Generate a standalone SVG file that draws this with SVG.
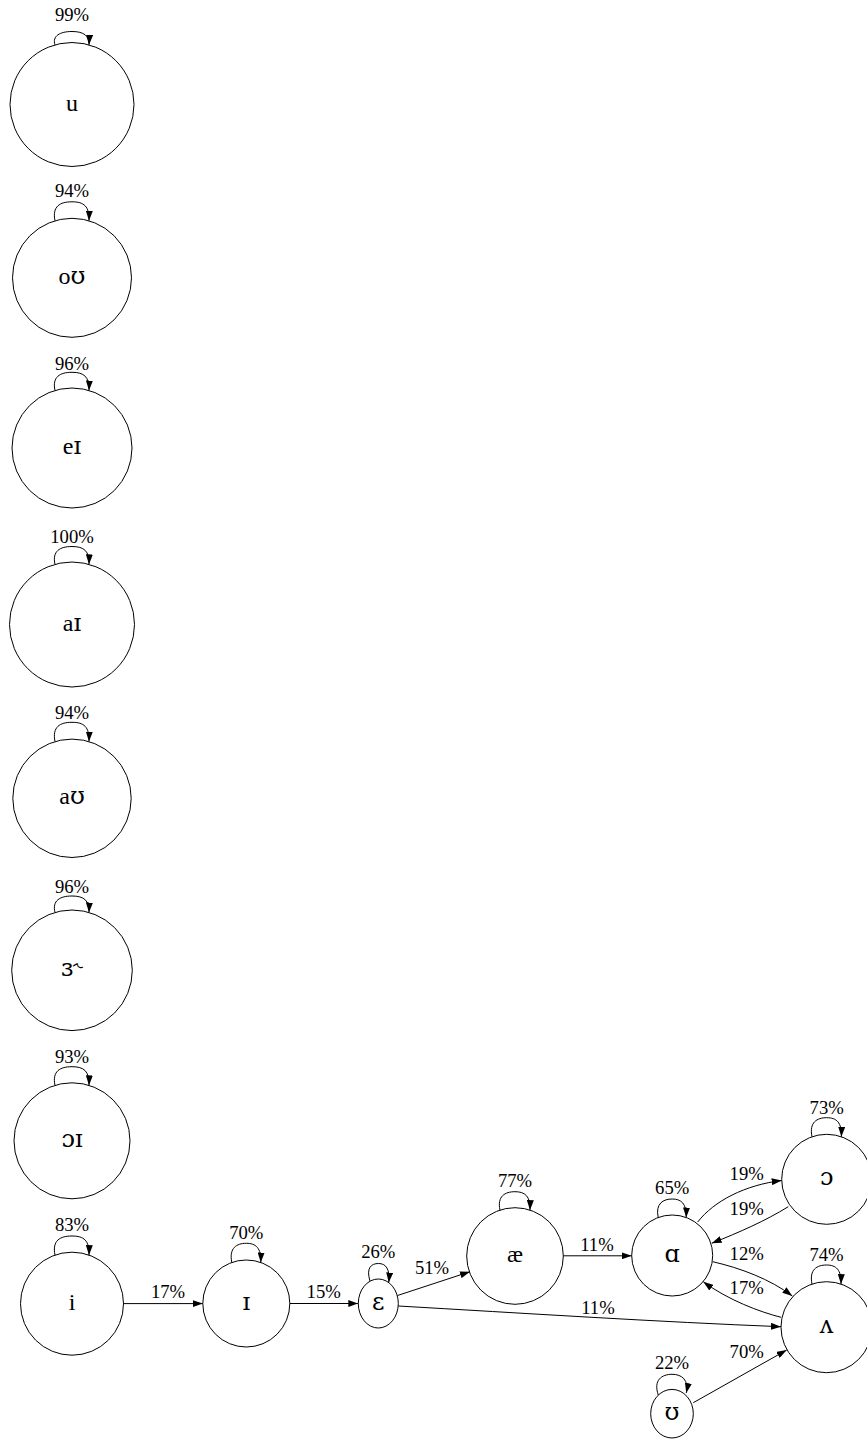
<svg xmlns="http://www.w3.org/2000/svg" width="867" height="1439" viewBox="0 0 867 1439">
<defs>
<marker id="arr" viewBox="0 0 10 7" refX="10" refY="3.5" markerWidth="10" markerHeight="7" orient="auto" markerUnits="userSpaceOnUse">
<path d="M0,0 L10,3.5 L0,7 z" fill="#000"/>
</marker>
<style>
.n{fill:none;stroke:#000;stroke-width:1}
.t{font-family:"Liberation Serif","DejaVu Serif",serif;font-size:24px;text-anchor:middle;fill:#000}
.p{font-family:"DejaVu Serif","Liberation Serif",serif}
.e{fill:none;stroke:#000;stroke-width:1;marker-end:url(#arr)}
.l{font-family:"Liberation Serif","DejaVu Serif",serif;font-size:18.67px;text-anchor:middle;fill:#000}
</style>
</defs>
<rect width="867" height="1439" fill="#fff"/>
<g id="node-u"><circle class="n" cx="72" cy="104.5" r="62"/><text class="t" x="72" y="110.5">u</text></g>
<g id="node-ou"><circle class="n" cx="72" cy="277.8" r="59.5"/><text class="t" x="72" y="283.8">o<tspan class="p">ʊ</tspan></text></g>
<g id="node-ei"><circle class="n" cx="72" cy="448" r="60"/><text class="t" x="72" y="454">e<tspan class="p">ɪ</tspan></text></g>
<g id="node-ai"><circle class="n" cx="72" cy="624.5" r="62.5"/><text class="t" x="72" y="630.5">a<tspan class="p">ɪ</tspan></text></g>
<g id="node-au"><circle class="n" cx="72" cy="798.3" r="59.2"/><text class="t" x="72" y="804.3">a<tspan class="p">ʊ</tspan></text></g>
<g id="node-er"><circle class="n" cx="72" cy="970.3" r="60.3"/><text class="t" x="72" y="976.3"><tspan class="p">ɜ˞</tspan></text></g>
<g id="node-oi"><circle class="n" cx="72" cy="1140.8" r="58"/><text class="t" x="72" y="1146.8"><tspan class="p">ɔɪ</tspan></text></g>
<g id="node-i"><circle class="n" cx="72" cy="1303.7" r="51.5"/><text class="t" x="72" y="1309.5">i</text></g>
<g id="node-I"><circle class="n" cx="246.3" cy="1303.5" r="43.5"/><text class="t" x="246.3" y="1309.5"><tspan class="p">ɪ</tspan></text></g>
<g id="node-E"><ellipse class="n" cx="378.3" cy="1303.5" rx="20" ry="24.5"/><text class="t" x="378.3" y="1309.5"><tspan class="p">ɛ</tspan></text></g>
<g id="node-ae"><circle class="n" cx="515" cy="1256" r="48.3"/><text class="t" x="515" y="1262">æ</text></g>
<g id="node-A"><circle class="n" cx="672.2" cy="1255.5" r="40.5"/><text class="t" x="672.2" y="1261.5"><tspan class="p">ɑ</tspan></text></g>
<g id="node-O"><circle class="n" cx="826.7" cy="1179.3" r="45"/><text class="t" x="826.7" y="1185.3"><tspan class="p">ɔ</tspan></text></g>
<g id="node-V"><circle class="n" cx="826.5" cy="1327.2" r="45.5"/><text class="t" x="826.5" y="1333.2"><tspan class="p">ʌ</tspan></text></g>
<g id="node-U"><ellipse class="n" cx="672" cy="1413.7" rx="21.3" ry="24.3"/><text class="t" x="672" y="1419.7"><tspan class="p">ʊ</tspan></text></g>
<g id="connectors">
<path class="e" d="M55,44.9 C52,36 60,31.5 72,31.5 C84,31.5 89.5,36 89,44.9"/>
<text class="l" x="72" y="21">99%</text>
<path class="e" d="M55,220.8 C52,206.3 60,201.8 72,201.8 C84,201.8 89.5,206.3 89,220.8"/>
<text class="l" x="72" y="197">94%</text>
<path class="e" d="M55,390.5 C52,376.8 60,372.3 72,372.3 C84,372.3 89.5,376.8 89,390.5"/>
<text class="l" x="72" y="369.5">96%</text>
<path class="e" d="M55,564.4 C52,551 60,546.5 72,546.5 C84,546.5 89.5,551 89,564.4"/>
<text class="l" x="72" y="543">100%</text>
<path class="e" d="M55,741.6 C52,726.8 60,722.3 72,722.3 C84,722.3 89.5,726.8 89,741.6"/>
<text class="l" x="72" y="719">94%</text>
<path class="e" d="M55,912.5 C52,900.5 60,896 72,896 C84,896 89.5,900.5 89,912.5"/>
<text class="l" x="72" y="893">96%</text>
<path class="e" d="M55,1085.4 C52,1071.2 60,1066.7 72,1066.7 C84,1066.7 89.5,1071.2 89,1085.4"/>
<text class="l" x="72" y="1062.5">93%</text>
<path class="e" d="M55,1255.1 C52,1240.5 60,1236 72,1236 C84,1236 89.5,1240.5 89,1255.1"/>
<text class="l" x="72" y="1231">83%</text>
<path class="e" d="M231.8,1262.5 C228.8,1247.8 236.8,1243.3 246.3,1243.3 C255.8,1243.3 261.3,1247.8 260.8,1262.5"/>
<text class="l" x="246.3" y="1239">70%</text>
<path class="e" d="M370,1281.2 C366,1268 371,1263.5 378.5,1263.5 C386,1263.5 390,1269 388.8,1282.5"/>
<text class="l" x="378.3" y="1258">26%</text>
<path class="e" d="M500,1210.1 C497,1196.2 505,1191.7 515,1191.7 C525,1191.7 530.5,1196.2 530,1210.1"/>
<text class="l" x="515" y="1187">77%</text>
<path class="e" d="M658.2,1217.5 C655.2,1203.5 663.2,1199 672.2,1199 C681.2,1199 686.7,1203.5 686.2,1217.5"/>
<text class="l" x="672.2" y="1194">65%</text>
<path class="e" d="M812,1136.8 C809,1122.2 817,1117.7 826.7,1117.7 C836.4,1117.7 841.9,1122.2 841.4,1136.8"/>
<text class="l" x="826.7" y="1114">73%</text>
<path class="e" d="M812,1284.1 C809,1269.5 817,1265 826.5,1265 C836,1265 841.5,1269.5 841,1284.1"/>
<text class="l" x="826.5" y="1261">74%</text>
<path class="e" d="M658.3,1395 C653,1380 662,1374.3 672,1374.3 C682,1374.3 689,1380 686.3,1393"/>
<text class="l" x="672" y="1369">22%</text>
<path class="e" d="M123.2,1303.6 L202.8,1303.6"/>
<text class="l" x="168" y="1298">17%</text>
<path class="e" d="M289.8,1303.5 L358.3,1303.5"/>
<text class="l" x="323.7" y="1298">15%</text>
<path class="e" d="M397.5,1295.5 L470,1271.7"/>
<text class="l" x="432" y="1274">51%</text>
<path class="e" d="M563.3,1255.8 L631.7,1255.8"/>
<text class="l" x="597" y="1250.5">11%</text>
<path class="e" d="M398.3,1306 C520,1313 660,1322 781,1326.7"/>
<text class="l" x="598" y="1313.5">11%</text>
<path class="e" d="M697.7,1222 C714,1201 745,1185 781.7,1180.5"/>
<text class="l" x="746.7" y="1180">19%</text>
<path class="e" d="M788.3,1206.7 C765,1221 740,1232 711.7,1243.3"/>
<text class="l" x="746.7" y="1214.5">19%</text>
<path class="e" d="M712.7,1261.7 C740,1268 770,1279 792.3,1296"/>
<text class="l" x="746.7" y="1260">12%</text>
<path class="e" d="M781,1317.3 C760,1312 728,1300 703.3,1281.7"/>
<text class="l" x="746.7" y="1294">17%</text>
<path class="e" d="M693.3,1402.7 L786.7,1350"/>
<text class="l" x="746.7" y="1357.5">70%</text>
</g>
</svg>
